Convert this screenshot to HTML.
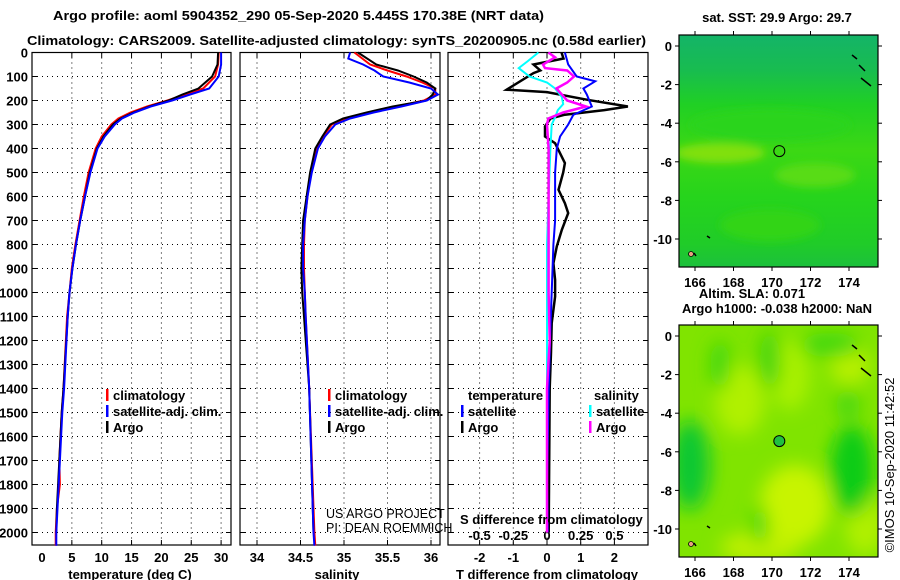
<!DOCTYPE html>
<html><head><meta charset="utf-8">
<style>
html,body{margin:0;padding:0;background:#fff;}
svg{display:block;font-family:"Liberation Sans",sans-serif;}
.b{font-weight:bold;font-size:13px;fill:#000;}
</style></head>
<body>
<svg id="chart" width="900" height="580" viewBox="0 0 900 580" xmlns="http://www.w3.org/2000/svg">
<defs>
<filter id="blur" x="-20%" y="-20%" width="140%" height="140%"><feGaussianBlur stdDeviation="9"/></filter>
<filter id="blur2"><feGaussianBlur stdDeviation="4"/></filter>
<clipPath id="clipA"><rect x="679" y="35" width="199" height="232"/></clipPath>
<clipPath id="clipB"><rect x="679" y="325" width="199" height="232"/></clipPath>
<linearGradient id="sstg" x1="0" y1="0" x2="0" y2="1">
<stop offset="0" stop-color="#14b468"/><stop offset="0.15" stop-color="#18bc50"/><stop offset="0.3" stop-color="#20d024"/>
<stop offset="0.5" stop-color="#3cd814"/><stop offset="0.7" stop-color="#26d41c"/><stop offset="0.9" stop-color="#20cc28"/><stop offset="1" stop-color="#1cc03c"/>
</linearGradient>
</defs>
<text class="b" x="53" y="20" font-size="14" textLength="491" lengthAdjust="spacingAndGlyphs">Argo profile: aoml 5904352_290 05-Sep-2020 5.445S 170.38E (NRT data)</text>
<text class="b" x="27" y="45" font-size="14" textLength="619" lengthAdjust="spacingAndGlyphs">Climatology: CARS2009. Satellite-adjusted climatology: synTS_20200905.nc (0.58d earlier)</text>
<g id="panels"></g>
<g id="maps"></g>
</svg>
<script>
// ---- data ----
const depthTicks=[0,100,200,300,400,500,600,700,800,900,1000,1100,1200,1300,1400,1500,1600,1700,1800,1900,2000];
const tempTicks=[0,5,10,15,20,25,30];
const salTicks=[34,34.5,35,35.5,36];
const salTickLabels=["34","34.5","35","35.5","36"];
const tdiffTicks=[-2,-1,0,1,2];
const sdiffTicks=[-0.5,-0.25,0,0.25,0.5];
const sdiffTickLabels=["-0.5","-0.25","0","0.25","0.5"];

const tArgoDepth=[0,50,100,150,175,200,225,250,275,300,350,400,500,600,700,800,900,1000,1100,1400,1500,1700,1900,2000];
const tArgo=[29.5,29.4,28.5,26.2,23.5,21.2,18.0,15.3,13.2,11.9,10.3,9.2,8.0,7.2,6.4,5.7,5.1,4.6,4.3,3.6,3.3,2.9,2.5,2.4];
const tClimDepth=[0,50,100,150,175,200,225,250,275,300,350,400,500,600,700,800,900,1000,1100,1400,1500,1700,1800,1900,2000,2055];
const tClim=[29.6,29.5,29.0,27.0,24.0,21.0,17.6,14.8,12.8,11.6,10.0,9.0,7.8,7.0,6.3,5.6,5.0,4.6,4.2,3.6,3.3,2.9,3.0,2.5,2.3,2.3];
const tSat=[30.0,30.0,29.6,28.0,24.8,21.8,18.2,15.5,13.4,12.2,10.5,9.3,8.1,7.2,6.4,5.7,5.1,4.6,4.3,3.7,3.4,3.0,2.8,2.6,2.4,2.4];

const sArgoDepth=[0,50,75,100,125,150,175,200,225,250,275,300,350,400,500,600,700,800,900,1000,1100,1400,2000];
const sArgo=[35.16,35.37,35.62,35.8,35.95,36.05,36.02,35.95,35.56,35.26,34.99,34.84,34.75,34.67,34.61,34.57,34.53,34.52,34.51,34.52,34.54,34.6,34.65];
const sClimDepth=[0,50,75,100,125,150,175,200,225,250,275,300,350,400,500,600,700,800,900,1000,1100,1400,2000,2055];
const sClim=[35.12,35.3,35.5,35.72,35.9,36.05,36.05,35.92,35.6,35.3,35.02,34.86,34.76,34.68,34.62,34.58,34.55,34.54,34.54,34.55,34.56,34.6,34.66,34.67];
const sSatDepth=[0,25,50,75,100,125,150,175,200,225,250,275,300,350,400,500,600,700,800,900,1000,1100,1400,2000,2055];
const sSat=[35.07,35.05,35.22,35.35,35.45,35.75,36.0,36.08,35.95,35.66,35.34,35.07,34.9,34.78,34.7,34.63,34.58,34.55,34.53,34.53,34.55,34.56,34.6,34.65,34.66];

const dTArgoDepth=[0,25,50,75,86,155,165,197,225,240,260,275,308,350,378,461,500,572,628,669,739,808,878,947,1017,1128,1250,1400,2000];
const dTArgo=[0.43,0.49,-0.4,-0.2,-0.4,-1.2,0.0,1.2,2.4,1.7,0.5,0.1,-0.06,-0.06,0.24,0.53,0.48,0.34,0.53,0.63,0.44,0.29,0.19,0.24,0.24,0.14,0.12,0.08,0.05];
const dTSatDepth=[0,50,100,120,150,175,225,260,300,350,400,500,700,800,1000,1150,1400,1800,2000];
const dTSat=[0.53,0.63,0.88,1.43,1.08,1.18,1.33,0.78,0.63,0.39,0.29,0.24,0.24,0.19,0.14,0.1,0.05,0.0,0.02];
const dSSatDepth=[0,35,65,100,125,150,185,215,240,270,300,400,600,800,1000,2000];
const dSSat=[-0.064,-0.14,-0.21,-0.13,0.0,0.06,0.11,0.12,0.08,0.06,0.035,0.025,0.012,0.0,0.0,0.0];
const dSArgoDepth=[0,20,50,65,75,100,125,150,175,200,225,250,275,300,400,600,800,1000,1200,1400,2000];
const dSArgo=[0.01,0.06,-0.03,-0.015,0.15,0.2,0.15,0.07,0.11,0.15,0.29,0.12,0.01,0.0,0.012,0.012,0.012,0.012,0.02,0.0,0.0];

const lonTicks=[166,168,170,172,174];
const latTicks=[0,-2,-4,-6,-8,-10];
const argoLon=170.38, argoLat=-5.445;

// ---- scales ----
const NS="http://www.w3.org/2000/svg";
const Y0=52.5, PXM=0.24, YB=545;
const yD=d=>Y0+d*PXM;
const xT=t=>42+t*5.97;
const xS=s=>257+(s-34)*87;
const xDT=t=>547+t*33.7;
const xDS=s=>547+s*134.8;
const P1={x0:32,x1:231},P2={x0:240,x1:440},P3={x0:448,x1:648};
const panels=document.getElementById('panels');
const maps=document.getElementById('maps');
function el(tag,attrs,parent){const e=document.createElementNS(NS,tag);for(const k in attrs)e.setAttribute(k,attrs[k]);(parent||panels).appendChild(e);return e;}
function txt(s,attrs,parent){const e=el('text',attrs,parent);e.textContent=s;return e;}

function frame(P,name){
  const g=el('g',{});
  
  
  depthTicks.forEach(d=>{
    const l=el('line',{x1:P.x0,x2:P.x1,y1:yD(d),y2:yD(d),stroke:'#000','stroke-width':1,'stroke-dasharray':'1,4'},g);
    
    
    el('line',{x1:P.x0,x2:P.x0+5,y1:yD(d),y2:yD(d),stroke:'#000'},g);
    el('line',{x1:P.x1-5,x2:P.x1,y1:yD(d),y2:yD(d),stroke:'#000'},g);
  });
  const r=el('rect',{x:P.x0,y:Y0,width:P.x1-P.x0,height:YB-Y0,fill:'none',stroke:'#000','stroke-width':1.2},g);
  
  
  return g;
}
function vgrid(g,xs){xs.forEach(x=>{
  const l=el('line',{x1:x,x2:x,y1:Y0,y2:YB,stroke:'#000','stroke-width':1,'stroke-dasharray':'1,4'},g);
  
  
  el('line',{x1:x,x2:x,y1:Y0,y2:Y0+5,stroke:'#000'},g);
  el('line',{x1:x,x2:x,y1:YB-5,y2:YB,stroke:'#000'},g);
});}
function line(g,xs,ds,sx,color,w,name){
  const pts=xs.map((v,i)=>sx(v).toFixed(1)+','+yD(ds[i]).toFixed(1)).join(' ');
  const p=el('polyline',{points:pts,fill:'none',stroke:color,'stroke-width':w,'stroke-linejoin':'miter'},g);
  
  
}
function legend(g,x,y,color,label,name){
  el('rect',{x:x,y:y-11,width:2.5,height:12,fill:color},g);
  const t=txt(label,{x:x+7,y:y,'class':'b','font-size':12.5},g);
  
  
}

depthTicks.forEach(d=>{
  const t=txt(String(d),{x:28,y:yD(d)+5,'text-anchor':'end','class':'b','font-size':13});
  
  
});

const g1=frame(P1,'temperature-panel');
vgrid(g1,tempTicks.slice(1).map(xT));
tempTicks.forEach(t=>{const e=txt(String(t),{x:xT(t),y:562,'text-anchor':'middle','class':'b'},g1);
  });
line(g1,tClim,tClimDepth,xT,'#ff0000',2,'temperature-climatology-line');
line(g1,tArgo,tArgoDepth,xT,'#000',2,'temperature-argo-line');
line(g1,tSat,tClimDepth,xT,'#0000ff',2,'temperature-satellite-line');
legend(g1,106,400,'#ff0000','climatology','legend-climatology');
legend(g1,106,416,'#0000ff','satellite-adj. clim.','legend-satellite-adj');
legend(g1,106,432,'#000','Argo','legend-argo');
{const e=txt('temperature (deg C)',{x:130,y:579,'text-anchor':'middle','class':'b'},g1);}

const g2=frame(P2,'salinity-panel');
vgrid(g2,salTicks.map(xS));
salTicks.forEach((s,i)=>{const e=txt(salTickLabels[i],{x:xS(s),y:562,'text-anchor':'middle','class':'b'},g2);
  });
line(g2,sClim,sClimDepth,xS,'#ff0000',2,'salinity-climatology-line');
line(g2,sArgo,sArgoDepth,xS,'#000',2,'salinity-argo-line');
line(g2,sSat,sSatDepth,xS,'#0000ff',2,'salinity-satellite-line');
legend(g2,328,400,'#ff0000','climatology','legend-climatology');
legend(g2,328,416,'#0000ff','satellite-adj. clim.','legend-satellite-adj');
legend(g2,328,432,'#000','Argo','legend-argo');
{const e=txt('US ARGO PROJECT',{x:326,y:518,'font-size':12.5,fill:'#000'},g2);
 const f=txt('PI: DEAN ROEMMICH',{x:326,y:532,'font-size':12.5,fill:'#000'},g2);}
{const e=txt('salinity',{x:337,y:579,'text-anchor':'middle','class':'b'},g2);}

const g3=frame(P3,'difference-panel');
vgrid(g3,tdiffTicks.map(xDT));
tdiffTicks.forEach(t=>{const e=txt(String(t),{x:xDT(t),y:562,'text-anchor':'middle','class':'b'},g3);
  });
sdiffTicks.forEach((s,i)=>{const e=txt(sdiffTickLabels[i],{x:xDS(s),y:540,'text-anchor':'middle','class':'b'},g3);
  });
line(g3,dTArgo,dTArgoDepth,xDT,'#000',2.5,'tdiff-argo-line');
line(g3,dTSat,dTSatDepth,xDT,'#0000ff',2,'tdiff-satellite-line');
line(g3,dSSat,dSSatDepth,xDS,'#00ffff',2,'sdiff-satellite-line');
line(g3,dSArgo,dSArgoDepth,xDS,'#ff00ff',2.5,'sdiff-argo-line');
{const a=txt('temperature',{x:468,y:400,'class':'b','font-size':12.5},g3);
 const b=txt('salinity',{x:594,y:400,'class':'b','font-size':12.5},g3);}
legend(g3,461,416,'#0000ff','satellite','legend-t-satellite');
legend(g3,461,432,'#000','Argo','legend-t-argo');
legend(g3,589,416,'#00ffff','satellite','legend-s-satellite');
legend(g3,589,432,'#ff00ff','Argo','legend-s-argo');
{const e=txt('S difference from climatology',{x:460,y:524,'class':'b','font-size':12.5},g3);}
{const e=txt('T difference from climatology',{x:547,y:579,'text-anchor':'middle','class':'b'},g3);}

// ---- maps ----
const xLon=lon=>695+(lon-166)*19.25;
function mapFrame(y0,lat0y,name,isSST){
  const yLat=lat=>lat0y-lat*19.3;
  const g=el('g',{},maps);
  
  
  const inner=el('g',{'clip-path':isSST?'url(#clipA)':'url(#clipB)'},g);
  if(isSST){
    el('rect',{x:679,y:y0,width:199,height:232,fill:'url(#sstg)'},inner);
    const bl=el('g',{filter:'url(#blur2)'},inner);
    el('ellipse',{cx:720,cy:y0+118,rx:45,ry:10,fill:'#80e010'},bl);
    el('ellipse',{cx:815,cy:y0+140,rx:40,ry:12,fill:'#58dc14'},bl);
    el('ellipse',{cx:770,cy:y0+90,rx:80,ry:16,fill:'#2cd41c'},bl);
    el('ellipse',{cx:770,cy:y0+190,rx:50,ry:16,fill:'#30d418'},bl);
  }else{
    el('rect',{x:679,y:y0,width:199,height:232,fill:'#80e400'},inner);
    const bl=el('g',{filter:'url(#blur)'},inner);
    [[740,y0+75,25,35,'#b0f000'],[790,y0+50,20,35,'#a8f000'],[795,y0+180,35,40,'#c8f400'],[760,y0+222,40,15,'#c0f000'],[865,y0+200,20,30,'#b0f000'],[850,y0+40,20,20,'#b8f000'],
     [690,y0+140,20,45,'#10c830'],[852,y0+145,22,45,'#10cc18'],[720,y0+40,10,25,'#40d810'],[770,y0+35,10,30,'#3cd410'],[830,y0+20,30,12,'#40d810'],[760,y0+200,8,20,'#40d810'],[848,y0+80,12,15,'#48d810']]
    .forEach(b=>el('ellipse',{cx:b[0],cy:b[1],rx:b[2],ry:b[3],fill:b[4]},bl));
  }
  const r=el('rect',{x:679,y:y0,width:199,height:232,fill:'none',stroke:'#000','stroke-width':1.2},g);
  
  
  lonTicks.forEach(lon=>{
    el('line',{x1:xLon(lon),x2:xLon(lon),y1:y0,y2:y0-4,stroke:'#000'},g);
    el('line',{x1:xLon(lon),x2:xLon(lon),y1:y0+232,y2:y0+236,stroke:'#000'},g);
    const t=txt(String(lon),{x:xLon(lon),y:y0+252,'text-anchor':'middle','class':'b'},g);
    
    
  });
  latTicks.forEach(lat=>{
    el('line',{x1:679,x2:675,y1:yLat(lat),y2:yLat(lat),stroke:'#000'},g);
    el('line',{x1:878,x2:882,y1:yLat(lat),y2:yLat(lat),stroke:'#000'},g);
    const t=txt(String(lat),{x:672,y:yLat(lat)+5,'text-anchor':'end','class':'b'},g);
    
    
  });
  el('path',{d:`M852 ${y0+20} l5 4 M859 ${y0+30} l6 6 M861 ${y0+43} l10 8 M694 ${y0+218} l2 3 M707 ${y0+201} l3 2`,stroke:'#000','stroke-width':1.5,fill:'none'},g);
  el('circle',{cx:691,cy:y0+219,r:2.5,fill:'#e8a080',stroke:'#000','stroke-width':0.8},g);
  const c=el('circle',{cx:xLon(argoLon),cy:yLat(argoLat),r:5.5,fill:isSST?'none':'#20c040',stroke:'#000','stroke-width':1},g);
  
  
}
mapFrame(35,46,'sst-map',true);
mapFrame(325,336,'sla-map',false);
{const a=txt('sat. SST: 29.9 Argo: 29.7',{x:777,y:22,'text-anchor':'middle','class':'b'},maps);
 const b=txt('Altim. SLA: 0.071',{x:752,y:298,'text-anchor':'middle','class':'b'},maps);
 const c=txt('Argo h1000: -0.038 h2000: NaN',{x:777,y:313,'text-anchor':'middle','class':'b'},maps);
 const d=txt('©IMOS 10-Sep-2020 11:42:52',{x:0,y:0,'text-anchor':'middle','font-size':13,fill:'#000',transform:'translate(894,465) rotate(-90)'},maps);}
</script>
</body></html>
